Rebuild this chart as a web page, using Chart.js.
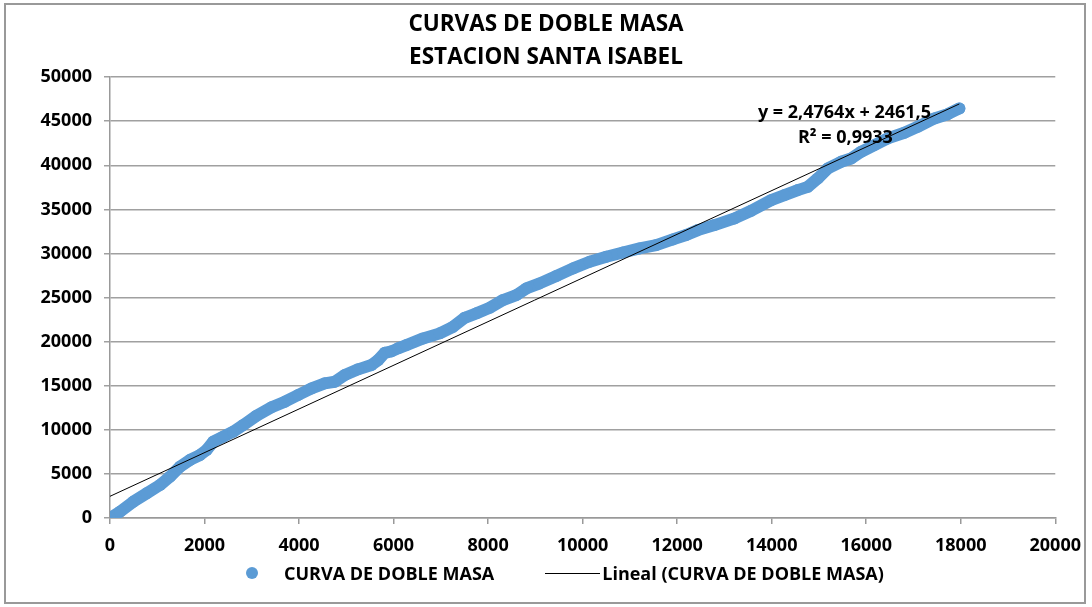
<!DOCTYPE html>
<html>
<head>
<meta charset="utf-8">
<title>Curvas de doble masa</title>
<script src="https://cdn.jsdelivr.net/npm/chart.js@4/dist/chart.umd.min.js"></script>
<style>
  body { margin: 0; background: #fff; }
  #wrap { position: relative; width: 1092px; height: 607px; }
  #frame { position: absolute; left: 4px; top: 3px; width: 1082px; height: 601px; border: 2px solid #999; box-sizing: border-box; pointer-events: none; }
  #legend { position: absolute; left: 246px; top: 562px; display: flex; align-items: center; font: bold 18px "Open Sans", sans-serif; color: #000; line-height: 22px; }
  #legend .dot { width: 12px; height: 12px; border-radius: 50%; background: #5b9bd5; margin-right: 26px; }
  #legend .seg { width: 55px; height: 0; border-top: 1px solid #000; margin: 0 2px 0 51px; }
</style>
</head>
<body>
<div id="wrap">
  <canvas id="chart" width="1092" height="607"></canvas>
  <div id="frame"></div>
  <div id="legend"></div>
</div>
<script>
// Datos
const xValues = [0, 211, 493, 775, 1057, 1268, 1480, 1691, 1903, 2044, 2184, 2396, 2607, 2819, 3100,
  3418, 3700, 3981, 4264, 4545, 4757, 4968, 5250, 5532, 5673, 5814, 5955, 6095, 6272, 6624, 6977,
  7258, 7505, 7752, 8034, 8315, 8598, 8809, 9091, 9444, 9796, 10148, 10501, 10852, 11205, 11558,
  11909, 12192, 12438, 12790, 13214, 13566, 13989, 14271, 14553, 14764, 14975, 15187, 15469, 15680,
  15892, 16173, 16455, 16807, 17089, 17442, 17723, 17970];
const yValues = [0, 714, 1850, 2800, 3740, 4680, 5820, 6580, 7140, 7710, 8650, 9220, 9785, 10540, 11600,
  12550, 13190, 13950, 14700, 15270, 15450, 16210, 16860, 17350, 17910, 18740, 18900, 19240, 19610, 20370, 20940,
  21690, 22710, 23210, 23840, 24720, 25280, 26040, 26610, 27440, 28310, 29060, 29630, 30120, 30580, 30950,
  31600, 32090, 32650, 33220, 33980, 34840, 36050, 36620, 37190, 37560, 38510, 39650, 40400, 40780,
  41530, 42290, 43050, 43690, 44370, 45320, 45800, 46450];

// Linea de tendencia (extremos)
const trendX = [0, 17970];
const trendY = [2460, 46960];

const seriesName = 'CURVA DE DOBLE MASA';
const trendName = 'Lineal (CURVA DE DOBLE MASA)';
const eqLines = ['y = 2,4764x + 2461,5', 'R\u00b2 = 0,9933'];
const eqPos = [[15540, 45920], [15560, 43080]];

const blue = '#5b9bd5';
const fontFamily = '"Open Sans", sans-serif';

const eqLabel = {
  id: 'eqLabel',
  afterDatasetsDraw(chart) {
    const { ctx, scales } = chart;
    ctx.save();
    ctx.font = 'bold 18px ' + fontFamily;
    ctx.fillStyle = '#000';
    ctx.textAlign = 'center';
    ctx.textBaseline = 'middle';
    eqLines.forEach((t, i) => {
      ctx.fillText(t, scales.x.getPixelForValue(eqPos[i][0]), scales.y.getPixelForValue(eqPos[i][1]));
    });
    ctx.restore();
  }
};

const chart = new Chart(document.getElementById('chart'), {
  type: 'scatter',
  data: {
    datasets: [{
      label: seriesName,
      data: xValues.map((x, i) => ({ x, y: yValues[i] })),
      showLine: true,
      borderColor: blue,
      borderWidth: 12,
      borderJoinStyle: 'round',
      borderCapStyle: 'round',
      backgroundColor: blue,
      pointRadius: 6,
      pointBorderWidth: 0,
      order: 2
    }, {
      label: trendName,
      data: trendX.map((x, i) => ({ x, y: trendY[i] })),
      showLine: true,
      borderColor: '#000',
      borderWidth: 1,
      pointRadius: 0,
      order: 1
    }]
  },
  options: {
    responsive: false,
    animation: false,
    layout: { padding: { left: 0, right: 0, top: 8, bottom: 49 } },
    plugins: {
      legend: { display: false },
      tooltip: { enabled: false },
      title: {
        display: true,
        text: ['CURVAS DE DOBLE MASA', 'ESTACION SANTA ISABEL'],
        color: '#000',
        font: { family: fontFamily, size: 22.5, weight: 'bold', lineHeight: 1.47 },
        padding: { top: 0, bottom: 3 }
      }
    },
    scales: {
      x: {
        type: 'linear',
        min: 0,
        max: 20000,
        afterFit: s => { s.height = 40; },
        ticks: { stepSize: 2000, color: '#000', padding: 11, maxRotation: 0, autoSkip: false,
          callback: v => String(v),
          font: { family: fontFamily, size: 18, weight: 'bold' } },
        grid: { drawOnChartArea: false, drawTicks: true, tickLength: 6, color: '#999', lineWidth: 1.5 },
        border: { color: '#999', width: 1.5 }
      },
      y: {
        min: 0,
        max: 50000,
        afterFit: s => { s.width = 110; },
        ticks: { stepSize: 5000, color: '#000', padding: 12,
          callback: v => String(v),
          font: { family: fontFamily, size: 18, weight: 'bold' } },
        grid: { color: '#a0a0a0', lineWidth: 1.5, tickLength: 6 },
        border: { color: '#999', width: 1.5 }
      },
      // margen derecho vacio
      yRight: {
        position: 'right',
        min: 0,
        max: 50000,
        afterFit: s => { s.width = 36; },
        ticks: { display: false },
        grid: { display: false },
        border: { display: false }
      }
    }
  },
  plugins: [eqLabel]
});

// Leyenda en HTML
const legendEl = document.getElementById('legend');
chart.data.datasets.forEach((ds, i) => {
  const mark = document.createElement('span');
  mark.className = i === 0 ? 'dot' : 'seg';
  const txt = document.createElement('span');
  txt.textContent = ds.label;
  legendEl.appendChild(mark);
  legendEl.appendChild(txt);
});
</script>
</body>
</html>
